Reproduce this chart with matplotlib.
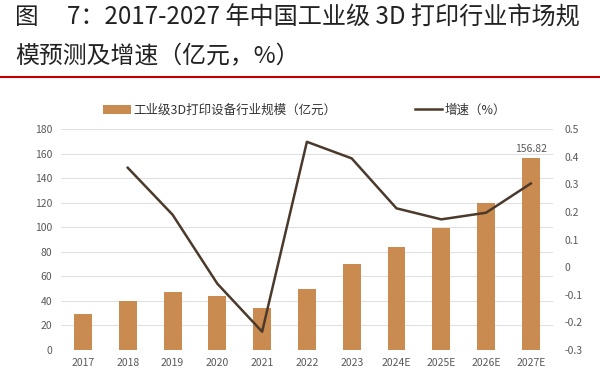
import numpy as np
import matplotlib.pyplot as plt
from matplotlib.lines import Line2D

plt.rcParams['font.family'] = ['Noto Sans CJK SC', 'DejaVu Sans']

years = ['2017', '2018', '2019', '2020', '2021', '2022', '2023',
         '2024E', '2025E', '2026E', '2027E']
market_size = [29, 40, 47, 44, 34, 49.5, 70, 84, 99, 119.5, 156.82]
growth = [None, 0.36, 0.19, -0.06, -0.234, 0.454, 0.394, 0.213, 0.173, 0.197, 0.303]

bar_color = '#C98B4F'
line_color = '#4B3A2C'
tick_color = '#595959'

fig = plt.figure(figsize=(6, 3.82), dpi=100)

# title, two lines, with a red rule underneath
W, H = 600, 382
fig.text(15 / W, 1 - 18 / H, '图', fontsize=17, color='#222222',
         va='center', ha='left')
fig.text(67 / W, 1 - 18 / H, '7：2017-2027 年中国工业级 3D 打印行业市场规',
         fontsize=17.4, color='#222222', va='center', ha='left')
fig.text(15 / W, 1 - 57 / H, '模预测及增速（亿元，%）',
         fontsize=17.2, color='#222222', va='center', ha='left')
fig.add_artist(Line2D([0, 1], [1 - 77 / H, 1 - 77 / H], color='#C00000', lw=1.5,
                      transform=fig.transFigure))

ax = fig.add_axes([0.101, 0.084, 0.821, 0.578])
x = np.arange(len(years))
ax.bar(x, market_size, width=0.4, color=bar_color, zorder=2,
       label='工业级3D打印设备行业规模（亿元）')
ax.set_ylim(0, 180)
ax.set_yticks(np.arange(0, 181, 20))
ax.set_xlim(-0.5, len(years) - 0.5)
ax.set_xticks(x)
ax.set_xticklabels(years)
ax.grid(axis='y', color='#E0E0E0', lw=0.8, zorder=0)
for s in ax.spines.values():
    s.set_visible(False)
ax.tick_params(length=0, labelsize=7.5, colors=tick_color, pad=6)

ax.text(x[-1], market_size[-1] + 3, f'{market_size[-1]:.2f}', ha='center',
        va='bottom', fontsize=7.5, color=tick_color)

ax2 = ax.twinx()
gx = [i for i, g in zip(x, growth) if g is not None]
gy = [g for g in growth if g is not None]
ax2.plot(gx, gy, color=line_color, lw=1.8, label='增速（%）')
ax2.set_ylim(-0.3, 0.5)
ax2.set_yticks(np.arange(-0.3, 0.51, 0.1))
ax2.set_yticklabels(['-0.3', '-0.2', '-0.1', '0', '0.1', '0.2', '0.3', '0.4', '0.5'])
for s in ax2.spines.values():
    s.set_visible(False)
ax2.tick_params(length=0, labelsize=7.5, colors=tick_color, pad=8)

h1, l1 = ax.get_legend_handles_labels()
h2, l2 = ax2.get_legend_handles_labels()
fig.legend(h1 + h2, l1 + l2, loc='center left', bbox_to_anchor=(103 / W, 1 - 110 / H),
           ncol=2, frameon=False, fontsize=9, labelcolor='#333333',
           columnspacing=6.3, handlelength=2.2, handletextpad=0.2,
           borderaxespad=0, borderpad=0)

fig.savefig('out.png', dpi=100)
